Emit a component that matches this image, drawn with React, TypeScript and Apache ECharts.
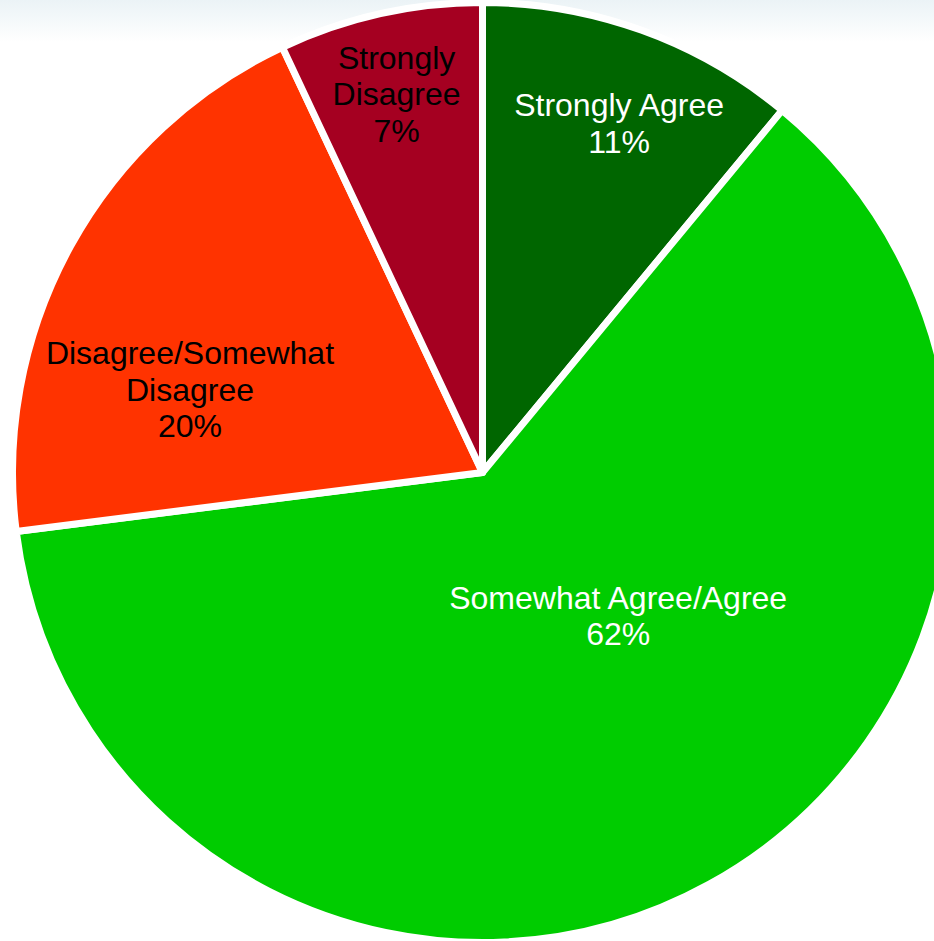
import React, { useEffect, useRef } from "react";
import * as echarts from "echarts";

const categories = [
  "Strongly Agree",
  "Somewhat Agree/Agree",
  "Disagree/Somewhat Disagree",
  "Strongly Disagree",
];
const values = [11, 62, 20, 7];
const labelLines = [
  ["Strongly Agree"],
  ["Somewhat Agree/Agree"],
  ["Disagree/Somewhat", "Disagree"],
  ["Strongly", "Disagree"],
];
const colors = ["#006600", "#00CC00", "#FF3300", "#A50021"];
const labelColors = ["#ffffff", "#ffffff", "#000000", "#000000"];
// label shifts from the default "inside" position
const labelShift = [
  [56, -125],
  [21, -65],
  [-84, 32],
  [-34, -146],
];

export default function App() {
  const ref = useRef<HTMLDivElement>(null);
  useEffect(() => {
    if (!ref.current) return;
    const chart = echarts.init(ref.current, undefined, { renderer: "svg" });
    chart.setOption({
      animation: false,
      backgroundColor: {
        type: "linear",
        x: 0,
        y: 0,
        x2: 0,
        y2: 1,
        colorStops: [
          { offset: 0, color: "#ebf3f6" },
          { offset: 0.045, color: "#ffffff" },
          { offset: 1, color: "#ffffff" },
        ],
      },
      series: [
        {
          type: "pie",
          center: [482.5, 472.5],
          radius: 470,
          startAngle: 90,
          clockwise: true,
          silent: true,
          itemStyle: { borderColor: "#ffffff", borderWidth: 7 },
          label: {
            show: true,
            position: "inside",
            fontFamily: "Arial, 'Liberation Sans', sans-serif",
            fontSize: 32,
            lineHeight: 36.5,
            align: "center",
          },
          labelLine: { show: false },
          labelLayout: (p: any) => ({
            dx: labelShift[p.dataIndex][0],
            dy: labelShift[p.dataIndex][1],
          }),
          emphasis: { disabled: true },
          data: categories.map((name, i) => ({
            name,
            value: values[i],
            itemStyle: { color: colors[i] },
            label: {
              color: labelColors[i],
              formatter: () =>
                labelLines[i].join("\n") + "\n" + values[i] + "%",
            },
          })),
        },
      ],
    });
    return () => chart.dispose();
  }, []);
  return (
    <div
      ref={ref}
      style={{ position: "fixed", left: 0, top: 0, width: 934, height: 941 }}
    />
  );
}
